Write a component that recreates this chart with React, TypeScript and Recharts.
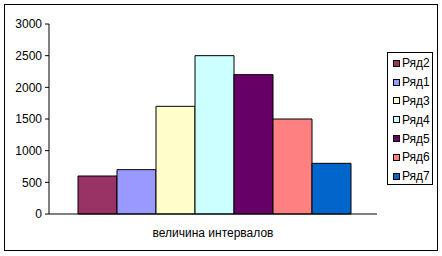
import { BarChart, Bar, XAxis, YAxis } from "recharts";

const category = "величина интервалов";
const seriesNames = ["Ряд2", "Ряд1", "Ряд3", "Ряд4", "Ряд5", "Ряд6", "Ряд7"];
const seriesValues = [600, 700, 1700, 2500, 2200, 1500, 800];
const seriesColors = ["#993366", "#9999FF", "#FFFFCC", "#CCFFFF", "#660066", "#FF8080", "#0066CC"];
const yTicks = [0, 500, 1000, 1500, 2000, 2500, 3000];

const row: any = { name: category };
seriesNames.forEach((n, i) => {
  row[n] = seriesValues[i];
});
const data = [row];

const FONT = "Arial, 'Liberation Sans', sans-serif";

// legend drawn by hand so it keeps Excel's order and box
function LegendBox() {
  return (
    <div
      style={{
        position: "absolute",
        left: 387,
        top: 52,
        width: 46,
        height: 133,
        border: "1px solid #000",
        background: "#fff",
        boxSizing: "border-box",
        paddingTop: 1,
        fontFamily: FONT,
        fontSize: 12,
        color: "#000",
      }}
    >
      {seriesNames.map((n, i) => (
        <div
          key={n}
          style={{ display: "flex", alignItems: "center", height: 18.8, paddingLeft: 5 }}
        >
          <span
            style={{
              display: "inline-block",
              width: 5,
              height: 5,
              border: "1px solid #000",
              background: seriesColors[i],
              marginRight: 2,
            }}
          />
          <span>{n}</span>
        </div>
      ))}
    </div>
  );
}

export default function App() {
  return (
    <div
      style={{
        position: "absolute",
        left: 0,
        top: 0,
        width: 442,
        height: 256,
        background: "#fff",
      }}
    >
      <div
        style={{
          position: "absolute",
          left: 4,
          top: 4,
          width: 434,
          height: 247,
          border: "1px solid #000",
          boxSizing: "border-box",
        }}
      />
      <div style={{ position: "absolute", left: 0, top: 0 }}>
        <BarChart
          width={442}
          height={256}
          data={data}
          margin={{ top: 24, right: 65, bottom: 12, left: 4 }}
          barGap={0}
          barCategoryGap={29}
        >
          <XAxis
            dataKey="name"
            height={30}
            stroke="#000"
            tickLine={false}
            tickMargin={8}
            tick={{ fill: "#000", fontSize: 12, fontFamily: FONT }}
          />
          <YAxis
            width={45}
            domain={[0, 3000]}
            ticks={yTicks}
            stroke="#000"
            tickSize={4}
            tickMargin={3}
            tick={{ fill: "#000", fontSize: 12, fontFamily: FONT }}
          />
          {seriesNames.map((n, i) => (
            <Bar
              key={n}
              dataKey={n}
              fill={seriesColors[i]}
              stroke="#000"
              strokeWidth={1}
              isAnimationActive={false}
            />
          ))}
        </BarChart>
      </div>
      <LegendBox />
    </div>
  );
}
